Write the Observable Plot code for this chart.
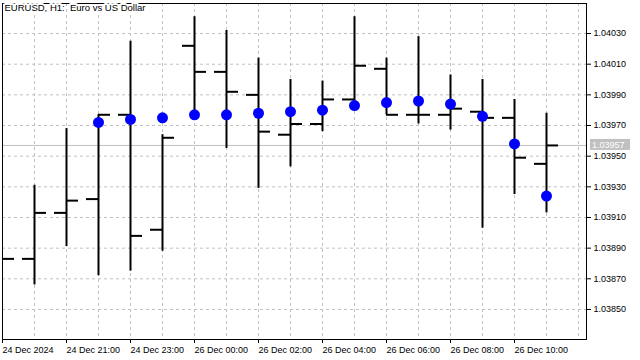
<!DOCTYPE html>
<html><head><meta charset="utf-8">
<script src="https://cdn.jsdelivr.net/npm/d3@7"></script>
<script src="https://cdn.jsdelivr.net/npm/@observablehq/plot@0.6"></script>
<style>html,body{margin:0;padding:0;background:#fff;} #chart{width:640px;height:360px;}</style>
</head><body><div id="chart"></div>
<script>
// ---- data ----
const title = "EURUSD, H1:\u00a0\u00a0Euro vs US Dollar";
const barIdx = [0,1,2,3,4,5,6,7,8,9,10,11,12,13,14,15,16,17];
const opens  = [null,1.03883,1.03913,1.03922,1.03977,1.03902,1.04022,1.04005,1.03990,1.03964,1.03971,1.03987,1.04007,1.03977,1.03977,1.03979,1.03975,1.03945];
const highs  = [null,1.03931,1.03968,1.03977,1.04025,1.03964,1.04041,1.04032,1.04014,1.04000,1.03999,1.04041,1.04014,1.04028,1.04003,1.04000,1.03987,1.03978];
const lows   = [null,1.03866,1.03891,1.03872,1.03875,1.03888,1.03974,1.03955,1.03929,1.03943,1.03966,1.03982,1.03977,1.03971,1.03967,1.03903,1.03925,1.03913];
const closes = [1.03883,1.03913,1.03921,1.03977,1.03898,1.03962,1.04005,1.03992,1.03966,1.03971,1.03987,1.04009,1.03977,1.03977,1.03981,1.03975,1.03949,1.03957];
const maVals = [null,null,null,1.03972,1.03974,1.03975,1.03977,1.03977,1.03978,1.03979,1.03980,1.03983,1.03985,1.03986,1.03984,1.03976,1.03958,1.03924];
const bid = 1.03957;
const yTicks = [1.03850,1.03870,1.03890,1.03910,1.03930,1.03950,1.03970,1.03990,1.04010,1.04030];
const xTickIdx = [0,2,4,6,8,10,12,14,16];
const xTickLabels = ["24 Dec 2024","24 Dec 21:00","24 Dec 23:00","26 Dec 00:00","26 Dec 02:00","26 Dec 04:00","26 Dec 06:00","26 Dec 08:00","26 Dec 10:00"];
const gridXIdx = [1,2,3,4,5,6,7,8,9,10,11,12,13,14,15,16,17,18];

const bars = barIdx.map((i, k) => ({i, open: opens[k], high: highs[k], low: lows[k], close: closes[k], ma: maVals[k]}));
const tickLen = 0.375; // horizontal open/close tick length in bar units
const font = "'Liberation Sans', Arial, sans-serif";
const gridStyle = {stroke: "#c0c0c0", strokeOpacity: 1, strokeDasharray: "3,3"};

const chart = Plot.plot({
  width: 640, height: 360,
  marginLeft: 2, marginRight: 54, marginTop: 3, marginBottom: 21,
  x: {domain: [0, 18.25]},
  y: {domain: [1.038304, 1.040496]},
  style: {fontFamily: font, fontSize: "9px", background: "white", color: "black"},
  marks: [
    Plot.gridY(yTicks, gridStyle),
    Plot.gridX(gridXIdx, gridStyle),
    Plot.ruleY([bid], {stroke: "#c0c0c0"}),
    Plot.ruleX(bars, {filter: d => d.high != null, x: "i", y1: "low", y2: "high", stroke: "black", strokeWidth: 2}),
    Plot.ruleY(bars, {filter: d => d.open != null, y: "open", x1: d => d.i - tickLen, x2: "i", stroke: "black", strokeWidth: 2}),
    Plot.ruleY(bars, {y: "close", x1: "i", x2: d => d.i + tickLen, stroke: "black", strokeWidth: 2}),
    Plot.dot(bars, {filter: d => d.ma != null, x: "i", y: "ma", r: 5.5, fill: "#0000ff", stroke: "none"}),
    Plot.frame({stroke: "black"}),
    Plot.axisY(yTicks, {anchor: "right", tickFormat: d3.format(".5f"), tickSize: 4, tickPadding: 3, label: null}),
    Plot.axisX(xTickIdx, {anchor: "bottom", tickFormat: d => xTickLabels[xTickIdx.indexOf(d)], tickSize: 4, tickPadding: 3.5, textAnchor: "start", label: null}),
    Plot.text([title], {frameAnchor: "top-left", dx: 2, dy: 1, lineAnchor: "top", textAnchor: "start", fill: "black", stroke: "white", strokeWidth: 4, fontSize: 9.5})
  ]
});

// bid price label box on the right axis, positioned through the plot's own scales
const ys = chart.scale("y").apply(bid);
const xr = chart.scale("x").range[1];
const svg = d3.select(chart);
svg.append("rect").attr("x", xr + 4).attr("y", ys - 6).attr("width", 40).attr("height", 11).attr("fill", "#c0c0c0");
svg.append("text").attr("x", xr + 6).attr("y", ys).attr("dy", "0.35em").attr("fill", "white")
  .attr("text-anchor", "start").attr("font-family", font).attr("font-size", 9).text(d3.format(".5f")(bid));

document.getElementById("chart").appendChild(chart);
</script>
</body></html>
